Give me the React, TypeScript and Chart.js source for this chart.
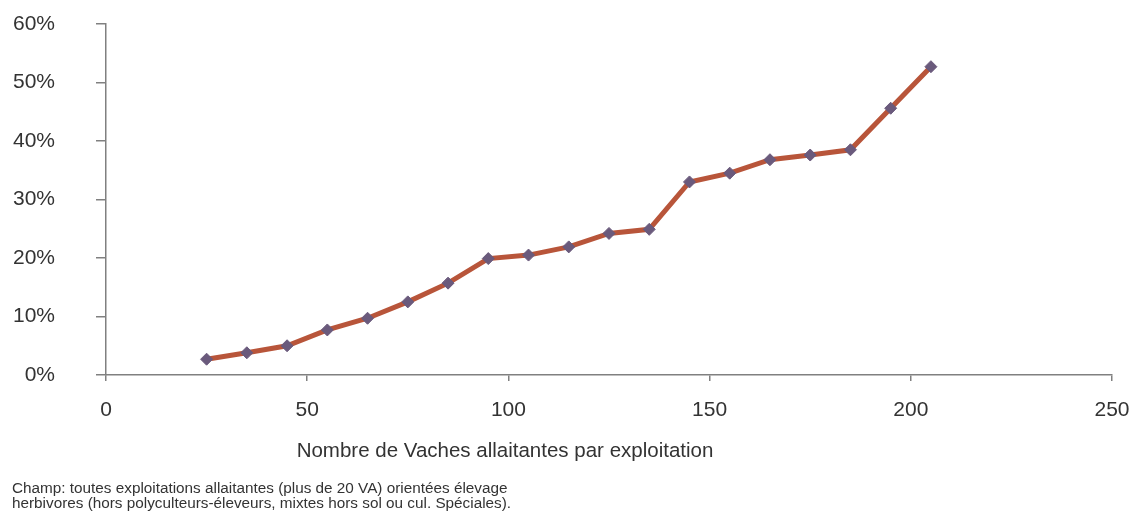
import React, { useEffect, useRef } from "react";
import { Chart, registerables } from "chart.js";

Chart.register(...registerables);

const herdSizes = [25, 35, 45, 55, 65, 75, 85, 95, 105, 115, 125, 135, 145, 155, 165, 175, 185, 195, 205];
const shares = [2.7, 3.8, 5.0, 7.7, 9.7, 12.5, 15.7, 19.9, 20.5, 21.9, 24.2, 24.9, 33.0, 34.5, 36.8, 37.6, 38.5, 45.6, 52.7];
const xTitle = "Nombre de Vaches allaitantes par exploitation";
const footnoteLines = [
  "Champ: toutes exploitations allaitantes (plus de 20 VA) orientées élevage",
  "herbivores (hors polyculteurs-éleveurs, mixtes hors sol ou cul. Spéciales).",
];

const FONT = "'Liberation Sans', Arial, sans-serif";

export default function App() {
  const ref = useRef<HTMLCanvasElement>(null);
  useEffect(() => {
    if (!ref.current) return;
    const chart = new Chart(ref.current, {
      type: "line",
      data: {
        datasets: [
          {
            data: herdSizes.map((x, i) => ({ x, y: shares[i] })),
            borderColor: "#b8553a",
            borderWidth: 5,
            pointStyle: "rectRot",
            pointRadius: 6,
            pointBackgroundColor: "#6a5a7c",
            pointBorderColor: "#6a5a7c",
            pointBorderWidth: 1,
            tension: 0,
          },
        ],
      },
      options: {
        animation: false,
        responsive: false,
        layout: { padding: 0 },
        plugins: { legend: { display: false }, tooltip: { enabled: false } },
        scales: {
          x: {
            type: "linear",
            min: 0,
            max: 250,
            ticks: { stepSize: 50, color: "#333", font: { family: FONT, size: 21 }, padding: 17, maxRotation: 0 },
            grid: { display: true, drawOnChartArea: false, drawTicks: true, tickLength: 6, color: "#808080", lineWidth: 1.5 },
            border: { display: true, color: "#808080", width: 1.5 },
            afterFit: (s: any) => {
              s.height = 150;
              s.paddingRight = 17;
              s.paddingLeft = 0;
            },
          },
          y: {
            min: 0,
            max: 60,
            ticks: { stepSize: 10, color: "#333", font: { family: FONT, size: 21 }, padding: 41, callback: (v: any) => v + "%" },
            grid: { display: true, drawOnChartArea: false, drawTicks: true, tickLength: 10, color: "#808080", lineWidth: 1.5 },
            border: { display: true, color: "#808080", width: 1.5 },
            afterFit: (s: any) => {
              s.width = 106;
              s.paddingTop = 24;
              s.paddingBottom = 0;
            },
          },
        },
      },
    });
    return () => chart.destroy();
  }, []);
  return (
    <div style={{ position: "absolute", left: 0, top: 0, width: 1129, height: 525, background: "#fff" }}>
      <canvas ref={ref} width={1129} height={525} style={{ position: "absolute", left: 0, top: 0 }} />
      <div
        style={{
          position: "absolute",
          left: 0,
          width: 1010,
          top: 436,
          textAlign: "center",
          fontFamily: FONT,
          fontSize: 20.5,
          color: "#333",
          lineHeight: "28px",
          whiteSpace: "nowrap",
        }}
      >
        {xTitle}
      </div>
      <div
        style={{
          position: "absolute",
          left: 12,
          top: 480,
          fontFamily: FONT,
          fontSize: 15.3,
          color: "#333",
          lineHeight: "15px",
          whiteSpace: "nowrap",
        }}
      >
        {footnoteLines.map((l, i) => (
          <div key={i}>{l}</div>
        ))}
      </div>
    </div>
  );
}
